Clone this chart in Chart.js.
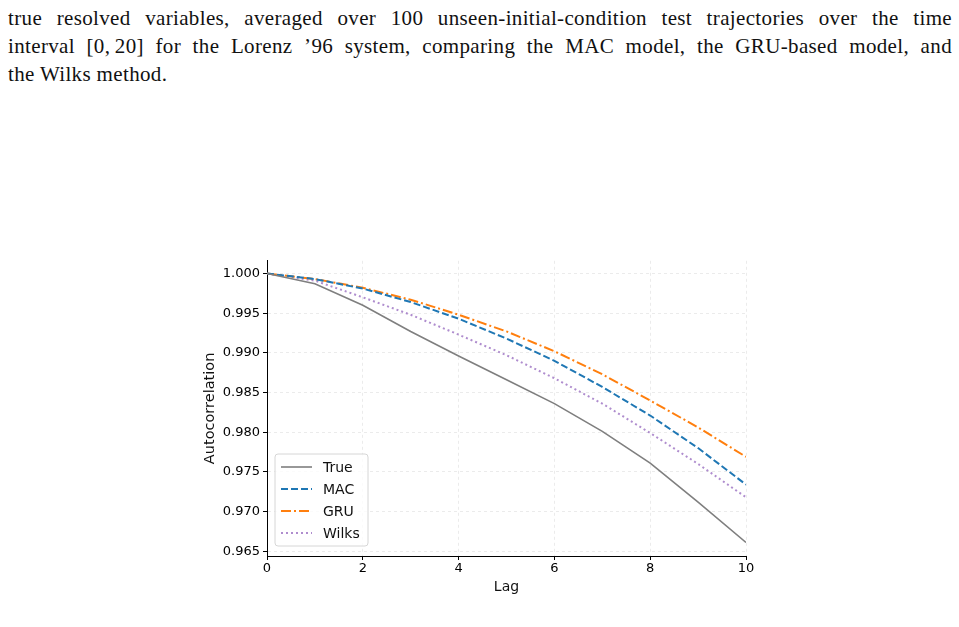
<!DOCTYPE html>
<html lang="en">
<head>
<meta charset="UTF-8">
<title>Lorenz 96 autocorrelation</title>
<script src="https://cdn.jsdelivr.net/npm/chart.js@4.4.1/dist/chart.umd.min.js"></script>
<style>
   html, body { margin: 0; padding: 0; background: #fff; }
   body { width: 959px; height: 627px; position: relative; overflow: hidden; }
   .caption {
      position: absolute; left: 8px; top: 4px; width: 944px;
      font-family: "Liberation Serif", "DejaVu Serif", serif;
      font-size: 21px; line-height: 28px; color: #111; letter-spacing: 0.35px;
   }
   .caption div { text-align: justify; text-align-last: justify; white-space: nowrap; }
   .caption div.last { text-align-last: left; }
   #wrap { position: absolute; left: 198px; top: 250px; width: 562px; height: 350px; }
</style>
</head>
<body>
<div class="caption">
   <div>true resolved variables, averaged over 100 unseen-initial-condition test trajectories over the time</div>
   <div>interval [0,&thinsp;20] for the Lorenz ’96 system, comparing the MAC model, the GRU-based model, and</div>
   <div class="last">the Wilks method.</div>
</div>
<div id="wrap"><canvas id="myChart" width="562" height="350"></canvas></div>
<script>
   // lags 0..10
   const lags = [0, 1, 2, 3, 4, 5, 6, 7, 8, 9, 10];
   const trueVals  = [1.0000, 0.9987, 0.9960, 0.9927, 0.9896, 0.9866, 0.9836, 0.9801, 0.9761, 0.9712, 0.9661];
   const macVals   = [1.0000, 0.9993, 0.9981, 0.9964, 0.9943, 0.9918, 0.9890, 0.9857, 0.9821, 0.9780, 0.9734];
   const gruVals   = [1.0000, 0.9993, 0.9982, 0.9967, 0.9948, 0.9927, 0.9902, 0.9873, 0.9840, 0.9806, 0.9769];
   const wilksVals = [1.0000, 0.9991, 0.9970, 0.9948, 0.9923, 0.9897, 0.9868, 0.9836, 0.9799, 0.9760, 0.9718];
   const xTicks = [0, 2, 4, 6, 8, 10];
   const yTicks = [0.965, 0.970, 0.975, 0.980, 0.985, 0.990, 0.995, 1.000];

   const pts = (vals) => vals.map((v, i) => ({ x: lags[i], y: v }));

   // legend drawn inside the plot, lower left (like matplotlib)
   const insideLegend = {
      id: 'insideLegend',
      afterDraw(chart) {
         const ctx = chart.ctx;
         const area = chart.chartArea;
         const sets = chart.data.datasets;
         const x0 = area.left + 8, rowH = 22;
         const h = sets.length * rowH + 4, w = 93;
         const y0 = area.bottom - 10 - h;
         ctx.save();
         ctx.beginPath();
         ctx.roundRect(x0, y0, w, h, 3);
         ctx.fillStyle = 'rgba(255,255,255,0.8)';
         ctx.fill();
         ctx.strokeStyle = '#d6d6d6';
         ctx.lineWidth = 1;
         ctx.stroke();
         ctx.font = '14px "DejaVu Sans"';
         ctx.textBaseline = 'middle';
         sets.forEach((ds, i) => {
            const yy = y0 + 13 + i * rowH;
            ctx.beginPath();
            ctx.setLineDash(ds.borderDash || []);
            ctx.strokeStyle = ds.borderColor;
            ctx.lineWidth = ds.borderWidth;
            ctx.moveTo(x0 + 6, yy);
            ctx.lineTo(x0 + 37, yy);
            ctx.stroke();
            ctx.setLineDash([]);
            ctx.fillStyle = '#111';
            ctx.fillText(ds.label, x0 + 48, yy + 1);
         });
         ctx.restore();
      }
   };

   const myChart = new Chart(document.getElementById('myChart'), {
      type: 'line',
      data: {
         datasets: [
            { label: 'True',  data: pts(trueVals),  borderColor: '#7f7f7f', borderWidth: 1.6 },
            { label: 'MAC',   data: pts(macVals),   borderColor: '#1f77b4', borderWidth: 2, borderDash: [7, 3] },
            { label: 'GRU',   data: pts(gruVals),   borderColor: '#ff7f0e', borderWidth: 2, borderDash: [10, 3, 2, 3] },
            { label: 'Wilks', data: pts(wilksVals), borderColor: 'rgba(148,103,189,0.75)', borderWidth: 2, borderDash: [2, 3] }
         ]
      },
      options: {
         responsive: false,
         animation: false,
         layout: { padding: { top: 3, right: 14, left: 0, bottom: 0 } },
         elements: { point: { radius: 0 }, line: { tension: 0, fill: false } },
         plugins: { legend: { display: false }, tooltip: { enabled: false } },
         scales: {
            x: {
               type: 'linear', min: 0, max: 10,
               afterBuildTicks: (s) => { s.ticks = xTicks.map(v => ({ value: v })); },
               afterFit: (s) => { s.height = 44; },
               ticks: { color: '#000', font: { family: 'DejaVu Sans', size: 13 }, padding: 1, maxRotation: 0 },
               grid: { color: 'rgba(0,0,0,0.08)', tickColor: '#000', tickLength: 4 },
               border: { display: true, color: '#000', width: 1, dash: [3, 3] },
               title: { display: true, text: 'Lag', color: '#111', font: { family: 'DejaVu Sans', size: 14 }, padding: { top: 1 } }
            },
            y: {
               type: 'linear', min: 0.9644, max: 1.0016,
               afterBuildTicks: (s) => { s.ticks = yTicks.map(v => ({ value: v })); },
               afterFit: (s) => { s.width = 69; },
               ticks: { color: '#000', font: { family: 'DejaVu Sans', size: 13 }, padding: 3, callback: (v) => Number(v).toFixed(3) },
               grid: { color: 'rgba(0,0,0,0.08)', tickColor: '#000', tickLength: 4 },
               border: { display: true, color: '#000', width: 1, dash: [3, 3] },
               title: { display: true, text: 'Autocorrelation', color: '#111', font: { family: 'DejaVu Sans', size: 14.5 }, padding: { bottom: 2 } }
            }
         }
      },
      plugins: [insideLegend]
   });
</script>
</body>
</html>
